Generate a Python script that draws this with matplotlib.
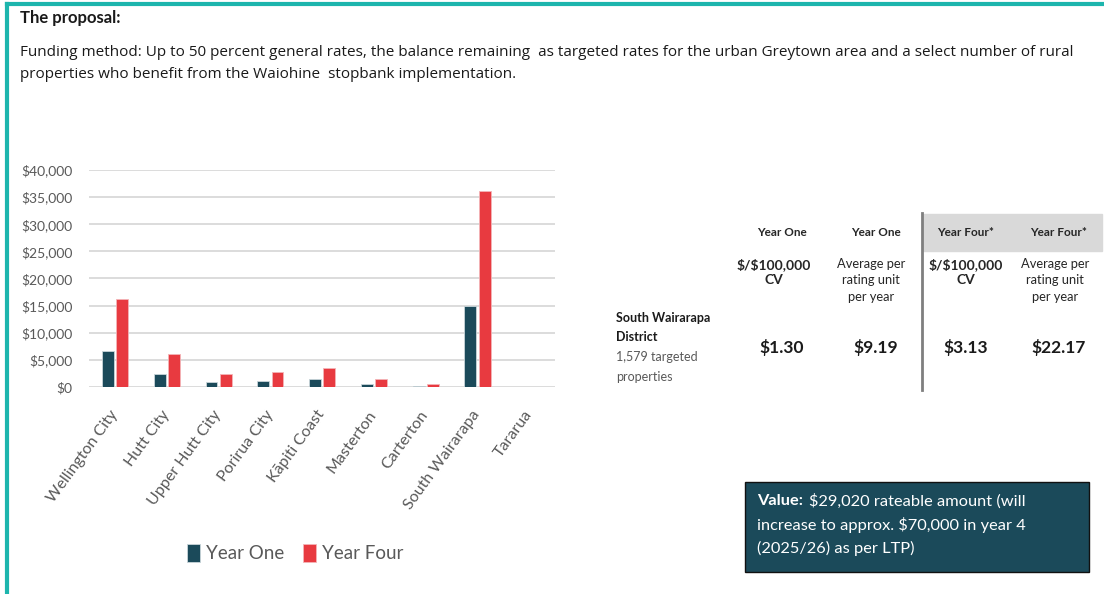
import numpy as np
import matplotlib.pyplot as plt
import matplotlib.ticker as tkr
from matplotlib.patches import Rectangle

#~~~~~~~~~~~~~~~~~~~~~~~~~~~~~~~~~~~~~~~~~~~~~~~~~~

# DATA

councils = ["Wellington City", "Hutt City", "Upper Hutt City", "Porirua City",
            "Kāpiti Coast", "Masterton", "Carterton", "South Wairarapa", "Tararua"]

yearOne  = [6650, 2350, 1000, 1180, 1480, 500, 250, 15000, 0]
yearFour = [16300, 6050, 2320, 2850, 3580, 1420, 500, 36200, 0]

yTicks = [0, 5000, 10000, 15000, 20000, 25000, 30000, 35000, 40000]

tableHeaders = ["Year One", "Year One", "Year Four*", "Year Four*"]
tableSubs    = ["$/$100,000\nCV", "Average per\nrating unit\nper year",
                "$/$100,000\nCV", "Average per\nrating unit\nper year"]
tableValues  = ["$1.30", "$9.19", "$3.13", "$22.17"]

#~~~~~~~~~~~~~~~~~~~~~~~~~~~~~~~~~~~~~~~~~~~~~~~~~~

# SETTINGS

W, H = 1104, 594
FONT = "Lato"
DARK = "#1b4a5a"
RED = "#e83a40"
GRAY = "#595959"
TEAL = "#1db5ad"

plt.rcParams["font.family"] = [FONT, "DejaVu Sans"]
plt.rcParams["text.parse_math"] = False

def px(x, y):
    return x / W, 1 - y / H

#~~~~~~~~~~~~~~~~~~~~~~~~~~~~~~~~~~~~~~~~~~~~~~~~~~

# FIGURE

figure = plt.figure(figsize = (W / 100, H / 100), dpi = 100)

# teal frame
figure.add_artist(plt.Line2D([7 / W, 1], [1 - 4 / H, 1 - 4 / H], color = TEAL,
                             linewidth = 3, transform = figure.transFigure))
figure.add_artist(plt.Line2D([7 / W, 7 / W], [0, 1 - 4 / H], color = TEAL,
                             linewidth = 3, transform = figure.transFigure))

figure.text(*px(20, 18), "The proposal:", fontsize = 12, fontweight = "bold",
            color = "#1a1a1a", va = "center")
figure.text(*px(20, 53), "Funding method: Up to 50 percent general rates, the balance "
            "remaining  as targeted rates for the urban Greytown area and a select "
            "number of rural", fontsize = 11.0, family = "Open Sans",
            color = "#1a1a1a", va = "center")
figure.text(*px(20, 75), "properties who benefit from the Waiohine  stopbank "
            "implementation.", fontsize = 11.0, family = "Open Sans",
            color = "#1a1a1a", va = "center")

#~~~~~~~~~~~~~~~~~~~~~~~~~~~~~~~~~~~~~~~~~~~~~~~~~~

# BAR CHART

axis = figure.add_axes([89 / W, 1 - 387 / H, 466 / W, 217 / H])

x = np.arange(len(councils))
axis.bar(x - 0.135, yearOne, width = 0.23, color = DARK, edgecolor = "#c9d6da",
         linewidth = 0.6, label = "Year One", zorder = 3)
axis.bar(x + 0.14, yearFour, width = 0.23, color = RED, edgecolor = "#f4b5b7",
         linewidth = 0.6, label = "Year Four", zorder = 3)

axis.set_xlim(-0.5, len(councils) - 0.5)
axis.set_ylim(0, 40000)
axis.set_yticks(yTicks)
axis.yaxis.set_major_formatter(tkr.FuncFormatter(lambda v, p: "${:,.0f}".format(v)))
axis.set_xticks(x)
axis.set_xticklabels(councils, rotation = 54, ha = "right", va = "center",
                     rotation_mode = "anchor", fontsize = 11.5, color = GRAY)
axis.tick_params(axis = "y", labelsize = 10, labelcolor = GRAY, length = 0, pad = 12)
axis.tick_params(axis = "x", length = 0, pad = 18)

axis.grid(axis = "y", color = "#d9d9d9", linewidth = 1.3, zorder = 0)
for spine in axis.spines.values():
    spine.set_visible(False)

handles, labels = axis.get_legend_handles_labels()
figure.legend(handles, labels, loc = "center", bbox_to_anchor = px(295, 553),
              ncol = 2, frameon = False, fontsize = 13.5, labelcolor = GRAY,
              handlelength = 0.7, handleheight = 1.1, handletextpad = 0.3,
              columnspacing = 1.0)

#~~~~~~~~~~~~~~~~~~~~~~~~~~~~~~~~~~~~~~~~~~~~~~~~~~

# TABLE

figure.add_artist(Rectangle(px(922, 251), 180 / W, 37 / H, color = "#d9d9d9",
                            transform = figure.transFigure, zorder = 0))
figure.add_artist(plt.Line2D([922 / W, 922 / W], [1 - 213 / H, 1 - 390 / H],
                             color = "#7f7f7f", linewidth = 2,
                             transform = figure.transFigure))

colX = [782, 876, 966, 1059]
subX = [774, 871, 966, 1055]
for cx, sx, head, sub, val in zip(colX, subX, tableHeaders, tableSubs, tableValues):
    figure.text(*px(cx, 233), head, fontsize = 8.5, fontweight = "bold",
                color = "#262626", ha = "center", va = "center")
    bold = "CV" in sub
    figure.text(*px(sx, 258), sub, fontsize = 10 if bold else 9.3,
                fontweight = "bold" if bold else "normal", color = "#262626",
                ha = "center", va = "top", linespacing = 1.45 if not bold else 1.3)
    figure.text(*px(cx, 347), val, fontsize = 12.5, fontweight = "bold",
                color = "#1a1a1a", ha = "center", va = "center")

figure.text(*px(616, 318), "South Wairarapa", fontsize = 9, fontweight = "bold",
            color = "#1a1a1a", va = "center")
figure.text(*px(616, 337), "District", fontsize = 9, fontweight = "bold",
            color = "#1a1a1a", va = "center")
figure.text(*px(616, 357), "1,579 targeted", fontsize = 9, color = GRAY, va = "center")
figure.text(*px(616, 377), "properties", fontsize = 9, color = GRAY, va = "center")

#~~~~~~~~~~~~~~~~~~~~~~~~~~~~~~~~~~~~~~~~~~~~~~~~~~

# VALUE BOX

figure.add_artist(Rectangle(px(745, 572), 344 / W, 90 / H, facecolor = DARK,
                            edgecolor = "#111111", linewidth = 1,
                            transform = figure.transFigure))
figure.text(*px(757, 501), "Value:", fontsize = 11.8, fontweight = "bold",
            color = "white", va = "center")
figure.text(*px(809, 501), "$29,020 rateable amount (will", fontsize = 11.8,
            color = "white", va = "center")
figure.text(*px(757, 525), "increase to approx. $70,000 in year 4", fontsize = 11.8,
            color = "white", va = "center")
figure.text(*px(757, 548), "(2025/26) as per LTP)", fontsize = 11.8,
            color = "white", va = "center")

#~~~~~~~~~~~~~~~~~~~~~~~~~~~~~~~~~~~~~~~~~~~~~~~~~~

# SAVING

figure.savefig("out.png", dpi = 100)
